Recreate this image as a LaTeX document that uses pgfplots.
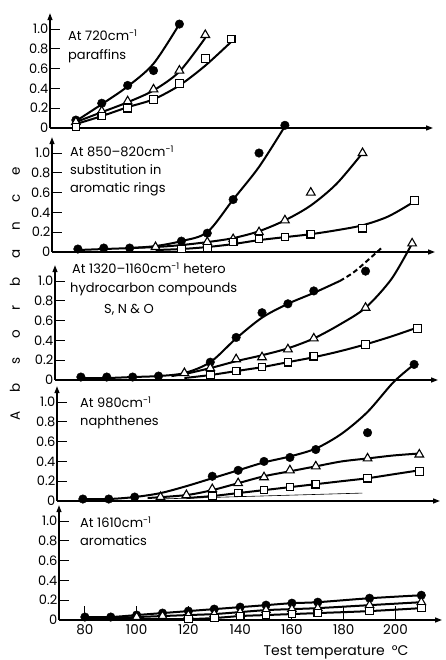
\documentclass[border=0pt]{standalone}
\usepackage{fontspec}
\setmainfont{Poppins}
\usepackage{pgfplots}
\pgfplotsset{compat=1.18}
\usetikzlibrary{arrows.meta}
\pgfplotsset{
  panel/.style={
    scale only axis, width=383pt, height=114.8pt,
    xmin=70, xmax=218, ymin=0, ymax=1.16,
    axis lines=left, anchor=south west, clip=false,
    axis line style={line width=1.3pt, -{Triangle[length=7pt,width=5pt]}},
    ytick={0,0.2,0.4,0.6,0.8,1.0}, yticklabels={0,0.2,0.4,0.6,0.8,1.0},
    xtick=\empty,
    tick align=inside, major tick length=10pt,
    tick style={line width=0.9pt, black},
    yticklabel style={font=\fontsize{13}{13}\selectfont, inner sep=1.5pt},
  },
  crv/.style={black, line width=2pt, smooth, no marks},
  mc/.style={black, only marks, mark=*, mark size=4.3pt},
  mt/.style={black, only marks, mark=triangle*, mark size=5pt, mark options={fill=white, line width=1.1pt}},
  ms/.style={black, only marks, mark=square*, mark size=3.8pt, mark options={fill=white, line width=1.1pt}},
}
\begin{document}
\begin{tikzpicture}
\path[use as bounding box] (0,0) rectangle (445pt,660pt);
% Panel 1: 720 cm-1 paraffins
\begin{axis}[panel, at={(50pt,532pt)}]
\addplot[crv] coordinates {(80,0.07)(90,0.24)(100,0.42)(110,0.65)(120,1.05)};
\addplot[crv] coordinates {(80,0.06)(90,0.16)(100,0.26)(110,0.38)(120,0.57)(130,0.91)};
\addplot[crv] coordinates {(80,0.04)(90,0.12)(100,0.21)(110,0.29)(120,0.43)(130,0.63)(140,0.87)};
\addplot[mc] coordinates {(80,0.08)(90,0.25)(100,0.43)(110,0.58)(120,1.05)};
\addplot[mt] coordinates {(80,0.06)(90,0.17)(100,0.27)(110,0.39)(120,0.58)(130,0.94)};
\addplot[ms] coordinates {(80,0.01)(90,0.12)(100,0.20)(110,0.29)(120,0.45)(130,0.70)(140,0.90)};
\end{axis}
% Panel 2: 850-820 cm-1
\begin{axis}[panel, at={(52pt,408pt)}]
\addplot[crv] coordinates {(80,0.02)(90,0.03)(100,0.04)(110,0.06)(120,0.11)(130,0.20)(140,0.53)(150,0.86)(160,1.27)};
\addplot[crv] coordinates {(100,0.04)(110,0.05)(120,0.07)(130,0.10)(140,0.14)(150,0.21)(160,0.32)(170,0.47)(180,0.69)(190,1.00)};
\addplot[crv] coordinates {(110,0.02)(120,0.03)(130,0.05)(140,0.08)(150,0.12)(160,0.15)(170,0.18)(180,0.22)(190,0.27)(200,0.36)(210,0.51)};
\addplot[mc] coordinates {(80,0.03)(90,0.04)(100,0.04)(120,0.11)(130,0.19)(140,0.53)(150,1.00)(160,1.28)};
\addplot[mt] coordinates {(110,0.05)(130,0.10)(140,0.13)(150,0.20)(160,0.32)(170,0.60)(190,1.00)};
\addplot[ms] coordinates {(120,0.03)(130,0.04)(140,0.10)(150,0.13)(160,0.15)(170,0.18)(190,0.24)(210,0.52)};
\end{axis}
% Panel 3: 1320-1160 cm-1
\begin{axis}[panel, at={(55pt,280pt)}]
\addplot[crv] coordinates {(80,0.02)(90,0.02)(100,0.03)(110,0.04)(120,0.07)(130,0.18)(140,0.42)(150,0.63)(160,0.77)(170,0.88)(180,1.00)};
\addplot[crv, dash pattern=on 5pt off 3pt] coordinates {(180,1.00)(186,1.10)(196,1.33)};
\addplot[crv] coordinates {(115,0.04)(120,0.06)(130,0.12)(140,0.19)(150,0.25)(160,0.32)(170,0.42)(180,0.56)(190,0.73)(200,1.02)(208,1.38)};
\addplot[crv] coordinates {(120,0.02)(130,0.05)(140,0.09)(150,0.13)(160,0.18)(170,0.23)(180,0.29)(190,0.36)(200,0.44)(210,0.53)};
\addplot[mc] coordinates {(80,0.03)(90,0.03)(100,0.03)(110,0.04)(130,0.18)(140,0.43)(150,0.68)(160,0.77)(170,0.90)(190,1.10)};
\addplot[mt] coordinates {(120,0.07)(130,0.12)(140,0.21)(150,0.23)(160,0.31)(170,0.42)(190,0.73)(208,1.38)};
\addplot[ms] coordinates {(130,0.05)(140,0.09)(150,0.13)(160,0.18)(170,0.24)(190,0.36)(210,0.52)};
\end{axis}
% Panel 4: 980 cm-1 naphthenes
\begin{axis}[panel, at={(57pt,159pt)}]
\addplot[crv] coordinates {(80,0.02)(90,0.02)(100,0.04)(110,0.08)(120,0.15)(130,0.23)(140,0.31)(150,0.39)(160,0.45)(170,0.53)(180,0.68)(190,0.90)(200,1.20)(208,1.38)};
\addplot[crv] coordinates {(105,0.03)(120,0.06)(130,0.11)(140,0.18)(150,0.25)(160,0.30)(170,0.35)(180,0.40)(190,0.43)(200,0.46)(210,0.48)};
\addplot[crv] coordinates {(120,0.03)(130,0.05)(140,0.08)(150,0.11)(160,0.14)(170,0.17)(180,0.20)(190,0.23)(200,0.27)(210,0.31)};
\addplot[black, line width=0.6pt, no marks] coordinates {(109,0.02)(188,0.08)};
\addplot[mc] coordinates {(80,0.02)(90,0.02)(100,0.04)(130,0.25)(140,0.31)(150,0.40)(160,0.44)(170,0.52)(190,0.69)(208,1.38)};
\addplot[mt] coordinates {(110,0.04)(120,0.06)(130,0.12)(140,0.18)(150,0.24)(160,0.31)(170,0.35)(190,0.43)(210,0.47)};
\addplot[ms] coordinates {(130,0.05)(140,0.08)(150,0.11)(160,0.14)(170,0.17)(190,0.23)(210,0.30)};
\end{axis}
% Panel 5: 1610 cm-1 aromatics
\begin{axis}[panel, at={(59pt,40pt)},
  xtick={80,100,120,140,160,180,200}, xticklabels={80,100,120,140,160,180,200},
  xtick style={/pgfplots/major tick length=14pt},
  xticklabel style={font=\fontsize{13.5}{13.5}\selectfont, yshift=-1pt}]
\addplot[crv] coordinates {(80,0.03)(90,0.03)(100,0.05)(110,0.07)(120,0.09)(130,0.11)(140,0.13)(150,0.15)(160,0.17)(170,0.18)(190,0.22)(210,0.25)};
\addplot[crv] coordinates {(80,0.02)(90,0.02)(100,0.03)(110,0.04)(120,0.05)(130,0.06)(140,0.08)(150,0.10)(160,0.11)(170,0.12)(190,0.15)(210,0.18)};
\addplot[crv] coordinates {(80,0.01)(100,0.01)(120,0.01)(130,0.02)(140,0.04)(150,0.05)(160,0.06)(170,0.07)(190,0.09)(210,0.12)};
\addplot[mc] coordinates {(80,0.03)(90,0.03)(100,0.05)(110,0.07)(120,0.09)(130,0.11)(140,0.13)(150,0.15)(160,0.17)(170,0.18)(190,0.22)(210,0.25)};
\addplot[mt] coordinates {(100,0.03)(110,0.04)(120,0.05)(130,0.06)(140,0.08)(150,0.10)(160,0.11)(170,0.12)(190,0.15)(210,0.18)};
\addplot[ms] coordinates {(120,0.01)(130,0.02)(140,0.04)(150,0.05)(160,0.06)(170,0.07)(190,0.09)(210,0.12)};
\end{axis}
% Panel titles
\begin{scope}[every node/.style={font=\fontsize{13}{13}\selectfont, anchor=base west, inner sep=0pt}]
\node at (68pt,619pt) {At 720cm\textsuperscript{-1}};
\node at (68pt,600pt) {paraffins};
\node at (70pt,503pt) {At 850--820cm\textsuperscript{-1}};
\node at (70pt,485pt) {substitution in};
\node at (70pt,467pt) {aromatic rings};
\node at (72pt,386pt) {At 1320--1160cm\textsuperscript{-1} hetero};
\node at (70pt,367pt) {hydrocarbon compounds};
\node at (104pt,346pt) {S, N \& O};
\node at (80pt,252pt) {At 980cm\textsuperscript{-1}};
\node at (80pt,234pt) {naphthenes};
\node at (80pt,132pt) {At 1610cm\textsuperscript{-1}};
\node at (80pt,114pt) {aromatics};
\end{scope}
% Axis titles
\node[rotate=90, font=\fontsize{13.5}{13.5}\selectfont] at (15pt,366pt) {\spaceskip=19pt A b s o r b a n c e};
\node[font=\fontsize{14}{14}\selectfont, anchor=base] at (336pt,5pt) {Test temperature\enspace °C};
\end{tikzpicture}
\end{document}
